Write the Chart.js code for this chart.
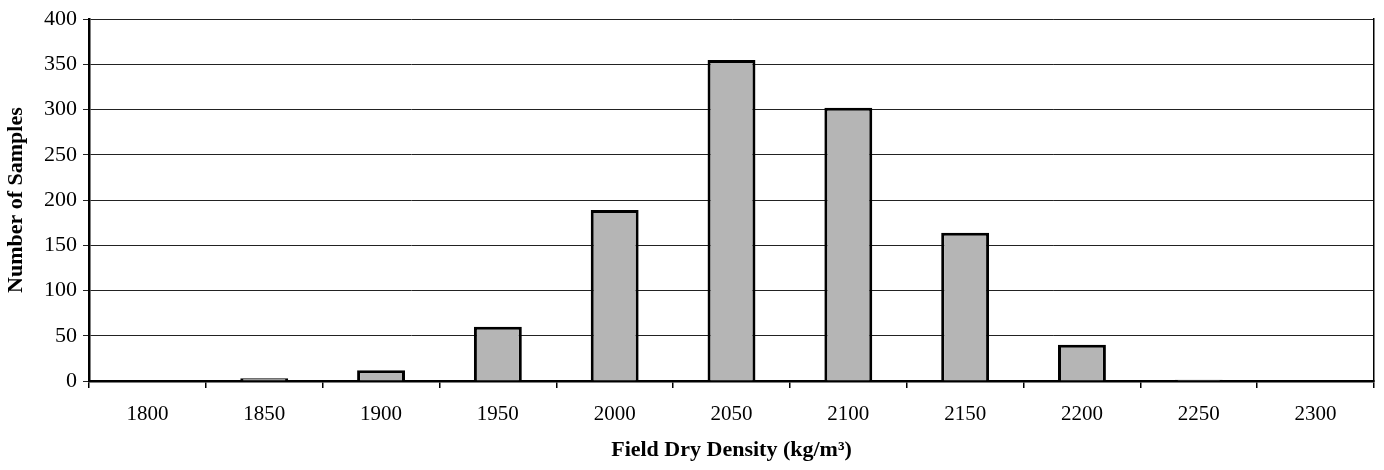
<!DOCTYPE html>
<html>
<head>
<meta charset="utf-8">
<script src="https://cdn.jsdelivr.net/npm/chart.js@4"></script>
<style>
  body { margin: 0; background: #fff; }
</style>
</head>
<body>
<canvas id="chart1" width="1384" height="470"></canvas>
<script>
const densities = ['1800', '1850', '1900', '1950', '2000', '2050', '2100', '2150', '2200', '2250', '2300']
const samples = [0, 3, 12, 60, 189, 355, 302, 164, 40, 1.5, 0]
const yTicks = [0, 50, 100, 150, 200, 250, 300, 350, 400]

Chart.defaults.font.family = '"Liberation Serif", "Times New Roman", serif'
Chart.defaults.color = '#000'

new Chart(document.getElementById('chart1'), {
    type: 'bar',
    data: {
        labels: densities,
        datasets: [{
            data: samples,
            backgroundColor: '#b5b5b5',
            borderColor: '#000',
            borderWidth: 3,
            barPercentage: 0.41,
            categoryPercentage: 1
        }]
    },
    options: {
        responsive: false,
        animation: false,
        layout: {
            padding: { top: 19, right: 10, bottom: 0, left: 0 }
        },
        plugins: {
            legend: { display: false },
            tooltip: { enabled: false }
        },
        scales: {
            x: {
                grid: {
                    offset: true,
                    drawOnChartArea: false,
                    color: '#000',
                    lineWidth: 1.5,
                    tickLength: 7
                },
                border: { color: '#000', width: 2.5 },
                ticks: {
                    font: { size: 21 },
                    padding: 14,
                    maxRotation: 0
                },
                title: {
                    display: true,
                    text: 'Field Dry Density (kg/m³)',
                    font: { size: 22, weight: 'bold' },
                    padding: { top: 0, bottom: 6 }
                },
                afterFit: function (scale) {
                    scale.height = 470 - 381
                }
            },
            y: {
                min: 0,
                max: 400,
                afterBuildTicks: function (scale) {
                    scale.ticks = yTicks.map(v => ({ value: v }))
                },
                grid: {
                    color: '#222',
                    lineWidth: 1,
                    tickLength: 6
                },
                border: { color: '#000', width: 2.5 },
                ticks: {
                    font: { size: 22 },
                    padding: 6
                },
                title: {
                    display: true,
                    text: 'Number of Samples',
                    font: { size: 22, weight: 'bold' },
                    padding: { top: 3, bottom: 0 }
                },
                afterFit: function (scale) {
                    scale.width = 89
                }
            },
            yRight: {
                position: 'right',
                min: 0,
                max: 400,
                grid: { display: false },
                ticks: { display: false },
                border: { display: true, color: '#000', width: 1.5 },
                afterFit: function (scale) {
                    scale.width = 0
                }
            }
        }
    }
})
</script>
</body>
</html>
